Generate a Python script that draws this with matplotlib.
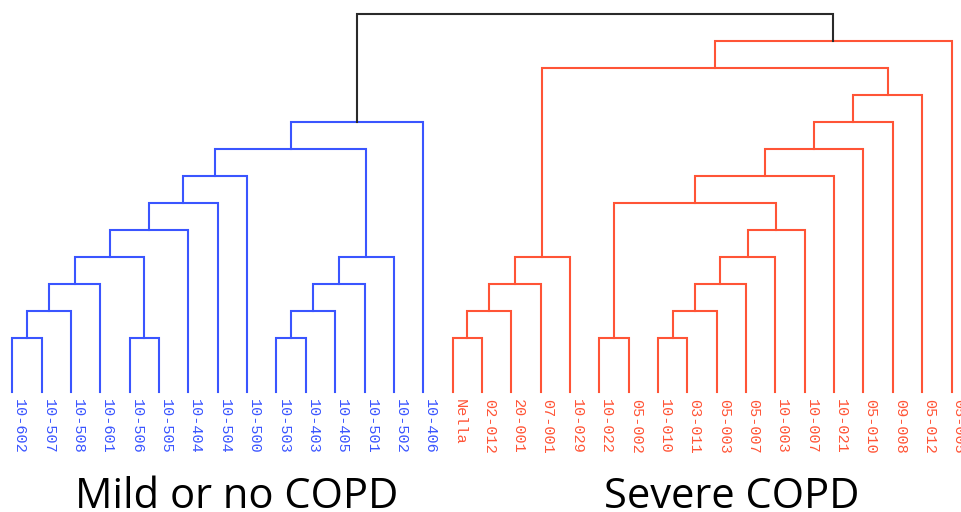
import matplotlib.pyplot as plt

# Hojas del dendrograma (en orden de izquierda a derecha)
mild = ["10-602", "10-507", "10-508", "10-601", "10-506", "10-505", "10-404", "10-504",
        "10-500", "10-503", "10-403", "10-405", "10-501", "10-502", "10-406"]
severe = ["Nella", "02-012", "20-001", "07-001", "10-029", "10-022", "05-002", "10-010",
          "03-011", "05-003", "05-007", "10-003", "10-007", "10-021", "05-010", "09-008",
          "05-012", "05-005"]

# Uniones: (nombre, izquierda, derecha, altura)
mild_merges = [("A", "10-602", "10-507", 2), ("B", "A", "10-508", 3), ("C", "B", "10-601", 4),
               ("D", "10-506", "10-505", 2), ("E", "C", "D", 5), ("F", "E", "10-404", 6),
               ("G", "F", "10-504", 7), ("H", "G", "10-500", 8), ("I", "10-503", "10-403", 2),
               ("J", "I", "10-405", 3), ("K", "J", "10-501", 4), ("L", "K", "10-502", 5),
               ("M", "H", "L", 9), ("N", "M", "10-406", 10)]
severe_merges = [("a", "Nella", "02-012", 2), ("b", "a", "20-001", 3), ("c", "b", "07-001", 4),
                 ("d", "c", "10-029", 5), ("e", "10-022", "05-002", 2), ("f", "10-010", "03-011", 2),
                 ("g", "f", "05-003", 3), ("h", "g", "05-007", 4), ("i", "h", "10-003", 5),
                 ("j", "i", "10-007", 6), ("k", "e", "j", 7), ("l", "k", "10-021", 8),
                 ("m", "l", "05-010", 9), ("n", "m", "09-008", 10), ("o", "n", "05-012", 11),
                 ("p", "d", "o", 12), ("q", "p", "05-005", 13)]
root_merge = ("root", "N", "q", 14)

azul = "#3a55ff"
rojo = "#ff5436"
negro = "#2a2a2a"

fig = plt.figure(figsize=(9.62, 5.12), dpi=100)
ax = fig.add_axes([12.3 / 962, (512 - 391.7) / 512, (951.5 - 12.3) / 962, (391.7 - 13.7) / 512])
ax.set_xlim(0, len(mild) + len(severe) - 1)
ax.set_ylim(0, 14)
ax.axis("off")

# Posiciones de las hojas
pos = {}
for i, nombre in enumerate(mild + severe):
    pos[nombre] = (i, 0)

# Dibujar cada union como una U
uniones = [(m, azul) for m in mild_merges] + [(m, rojo) for m in severe_merges] + [(root_merge, negro)]
for (nombre, izq, der, h), color in uniones:
    xl, hl = pos[izq]
    xr, hr = pos[der]
    ax.plot([xl, xl, xr, xr], [hl, h, h, hr], color=color, lw=1.5, clip_on=False,
            solid_joinstyle="miter")
    pos[nombre] = ((xl + xr) / 2, h)

# Etiquetas de las hojas
for i, nombre in enumerate(mild + severe):
    color = azul if nombre in mild else rojo
    ax.annotate(nombre, xy=(i, 0), xytext=(0, -5), textcoords="offset points",
                rotation=270, ha="left", va="top", color=color,
                family="Liberation Mono", fontsize=11)

# Titulos de los grupos
fig.text(237 / 962, 4 / 512, "Mild or no COPD", ha="center", va="baseline",
         family="Open Sans", fontsize=30)
fig.text(732 / 962, 4 / 512, "Severe COPD", ha="center", va="baseline",
         family="Open Sans", fontsize=30)

plt.savefig("out.png", dpi=100)
